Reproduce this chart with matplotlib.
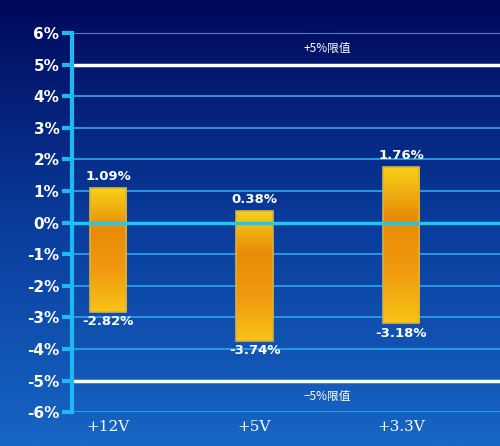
import numpy as np
import matplotlib
matplotlib.use("Agg")
import matplotlib.pyplot as plt
from matplotlib.colors import LinearSegmentedColormap
from matplotlib.patches import Rectangle

categories = ["+12V", "+5V", "+3.3V"]
high = [1.09, 0.38, 1.76]
low = [-2.82, -3.74, -3.18]
yticks = list(range(-6, 7))

fig = plt.figure(figsize=(5, 4.46), dpi=100)

# background gradient
bg = fig.add_axes([0, 0, 1, 1], zorder=-10)
bg_cmap = LinearSegmentedColormap.from_list("bg", ["#00085a", "#0a3c9c", "#1766c4"])
bg.imshow(np.linspace(0, 1, 256).reshape(-1, 1), aspect="auto", cmap=bg_cmap,
          extent=[0, 1, 0, 1], origin="upper")
bg.axis("off")

ax = fig.add_axes([0.144, 0.076, 0.856, 0.85])
ax.patch.set_alpha(0)

for y in yticks:
    if abs(y) == 5:
        ax.axhline(y, color="white", lw=2.5, zorder=1)
    elif y == 0:
        continue
    else:
        ax.axhline(y, color="#2a9fe8", lw=1.3, zorder=1)

bar_cmap = LinearSegmentedColormap.from_list("bar", ["#f7d21a", "#e88a06", "#f09a10", "#f8c416"])
w = 0.246
for i, (h, l) in enumerate(zip(high, low)):
    rect = Rectangle((i - w / 2, l), w, h - l, facecolor="none",
                     edgecolor="#d8b040", lw=1.2, zorder=3)
    ax.add_patch(rect)
    im = ax.imshow(np.linspace(0, 1, 256).reshape(-1, 1), aspect="auto", cmap=bar_cmap,
                   extent=[i - w / 2, i + w / 2, l, h], origin="upper", zorder=2)
    im.set_clip_path(rect)
    ax.text(i, h + 0.15, f"{h:.2f}%", color="white", fontsize=9.5, fontweight="bold",
            ha="center", va="bottom", zorder=5)
    ax.text(i, l - 0.12, f"{l:.2f}%", color="white", fontsize=9.5, fontweight="bold",
            ha="center", va="top", zorder=5)

ax.axhline(0, color="#20c8f0", lw=2.5, zorder=4)
ax.set_xlim(-0.246, 2.676)
ax.set_ylim(-6, 6)

ax.text(1.5, 5.3, "+5%限值", color="white", fontsize=8.5, ha="center", va="bottom",
        family=["Noto Sans CJK SC", "DejaVu Sans"])
ax.text(1.5, -5.3, "−5%限值", color="white", fontsize=8.5, ha="center", va="top",
        family=["Noto Sans CJK SC", "DejaVu Sans"])

ax.set_yticks(yticks)
ax.set_yticklabels([f"{y}%" for y in yticks], color="white", fontsize=11, fontweight="bold")
ax.tick_params(axis="y", color="#20b8f0", length=7, width=3, pad=2)
ax.set_xticks(range(len(categories)))
ax.set_xticklabels(categories, color="white", fontsize=11, family="DejaVu Serif")
ax.tick_params(axis="x", length=0, pad=6)
for s in ["top", "right", "bottom"]:
    ax.spines[s].set_visible(False)
ax.spines["left"].set_color("#20b8f0")
ax.spines["left"].set_linewidth(3)

fig.savefig("out.png", dpi=100)
